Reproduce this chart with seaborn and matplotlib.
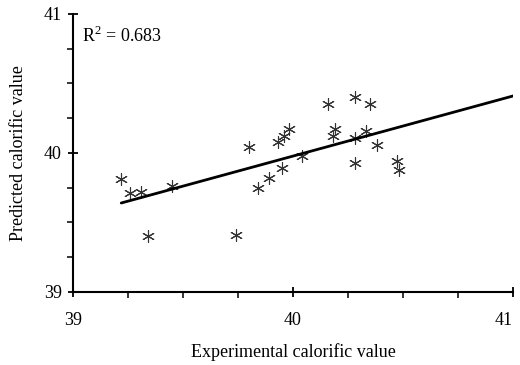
import matplotlib
matplotlib.use("Agg")
import matplotlib.pyplot as plt
from matplotlib.ticker import MultipleLocator
import seaborn as sns
import pandas as pd

experimental = [39.22, 39.26, 39.31, 39.45, 39.34, 39.74, 39.80, 39.84, 39.89, 39.93,
                39.95, 39.96, 39.98, 40.04, 40.16, 40.18, 40.19, 40.28, 40.28, 40.28,
                40.33, 40.35, 40.38, 40.47, 40.48]
predicted = [39.81, 39.71, 39.72, 39.76, 39.40, 39.41, 40.04, 39.75, 39.82, 40.08,
             39.89, 40.12, 40.17, 39.98, 40.35, 40.12, 40.17, 40.40, 40.11, 39.93,
             40.16, 40.35, 40.06, 39.94, 39.88]
fit_x = [39.22, 41.0]
fit_y = [39.64, 40.41]
major_ticks = [39, 40, 41]
tick_labels = ["39", "40", "41"]
r2_label = "R$^2$ = 0.683"
xlabel = "Experimental calorific value"
ylabel = "Predicted calorific value"

sns.set_theme(style="ticks")
plt.rcParams["font.family"] = ["Liberation Serif", "DejaVu Serif"]
plt.rcParams["mathtext.fontset"] = "custom"
plt.rcParams["mathtext.rm"] = "Liberation Serif"

df = pd.DataFrame({"x": experimental, "y": predicted})
fit = pd.DataFrame({"x": fit_x, "y": fit_y})

fig = plt.figure(figsize=(5.2, 3.65), dpi=100)
ax = fig.add_axes([0.140, 0.200, 0.847, 0.762])

sns.lineplot(data=fit, x="x", y="y", ax=ax, color="black", linewidth=2.0)
sns.scatterplot(data=df, x="x", y="y", ax=ax, marker=(6, 2, 0), s=75,
                color="#333333", linewidth=0.8, edgecolor="#333333")

ax.set_xlim(39, 41)
ax.set_ylim(39, 41)
ax.set_xticks(major_ticks, tick_labels)
ax.set_yticks(major_ticks, tick_labels)
ax.xaxis.set_minor_locator(MultipleLocator(0.25))
ax.yaxis.set_minor_locator(MultipleLocator(0.25))
ax.tick_params(which="major", direction="inout", length=7, width=1.3, color="black",
               labelsize=13, labelcolor="black")
ax.tick_params(axis="x", which="major", pad=11)
ax.tick_params(axis="y", which="major", pad=4.5)
ax.tick_params(which="minor", direction="out", length=4, width=1.1, color="black")
for s in ["top", "right"]:
    ax.spines[s].set_visible(False)
for s in ["left", "bottom"]:
    ax.spines[s].set_color("black")
    ax.spines[s].set_linewidth(1.5)

ax.set_xlabel(xlabel, fontsize=13, color="black", labelpad=10)
ax.set_ylabel(ylabel, fontsize=13, color="black", labelpad=12)
ax.text(0.02, 0.955, r2_label, transform=ax.transAxes, fontsize=13,
        color="black", va="top", ha="left")

ax.xaxis.get_major_ticks()[-1].label1.set_horizontalalignment("right")

fig.savefig("out.png", dpi=100)
